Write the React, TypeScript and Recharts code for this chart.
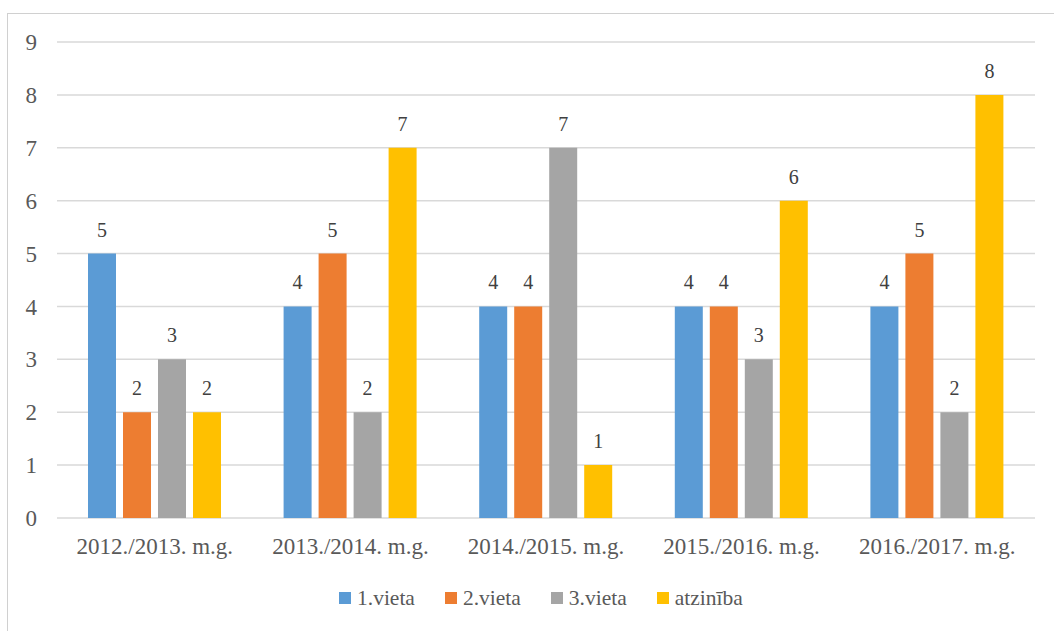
import { Bar, BarChart, CartesianGrid, LabelList, Legend, XAxis, YAxis } from 'recharts';

const years = ['2012./2013. m.g.', '2013./2014. m.g.', '2014./2015. m.g.', '2015./2016. m.g.', '2016./2017. m.g.'];
const first = [5, 4, 4, 4, 4];
const second = [2, 5, 4, 4, 5];
const third = [3, 2, 7, 3, 2];
const mention = [2, 7, 1, 6, 8];
const yTicks = [0, 1, 2, 3, 4, 5, 6, 7, 8, 9];

const series = [
  { key: 'v1', name: '1.vieta', color: '#5B9BD5' },
  { key: 'v2', name: '2.vieta', color: '#ED7D31' },
  { key: 'v3', name: '3.vieta', color: '#A5A5A5' },
  { key: 'v4', name: 'atzinība', color: '#FFC000' },
];

const data = years.map((year, i) => ({
  year,
  v1: first[i],
  v2: second[i],
  v3: third[i],
  v4: mention[i],
}));

const font = 'Liberation Serif, DejaVu Serif, serif';
const textColor = '#595959';

function LegendBox() {
  return (
    <div style={{ display: 'flex', alignItems: 'center', height: 30, paddingLeft: 339, fontFamily: font, fontSize: 21.5, color: textColor }}>
      {series.map((s) => (
        <div key={s.key} style={{ display: 'flex', alignItems: 'center', marginRight: 30 }}>
          <span style={{ width: 12, height: 12, background: s.color, marginRight: 6, display: 'inline-block' }} />
          <span>{s.name}</span>
        </div>
      ))}
    </div>
  );
}

export default function App() {
  return (
    <div style={{ position: 'absolute', left: 0, top: 0, width: 1054, height: 631, overflow: 'hidden', background: '#fff', fontFamily: font }}>
      <div style={{ position: 'absolute', left: 7, top: 13, width: 1100, height: 700, border: '1px solid #D0D0D0' }} />
      <div style={{ position: 'absolute', left: 0, top: 0 }}>
        <BarChart
          width={1054}
          height={631}
          data={data}
          margin={{ top: 42, right: 19, left: 7, bottom: 18 }}
          barCategoryGap={31}
          barGap={7}
          style={{ fontFamily: font }}
        >
          <CartesianGrid vertical={false} stroke="#D9D9D9" strokeWidth={1.5} />
          <XAxis
            dataKey="year"
            axisLine={false}
            tickLine={false}
            height={65}
            tickMargin={14}
            tick={{ fill: textColor, fontSize: 23, fontFamily: font }}
          />
          <YAxis
            domain={[0, 9]}
            ticks={yTicks}
            axisLine={false}
            tickLine={false}
            width={50}
            tickMargin={14}
            tick={{ fill: textColor, fontSize: 23, fontFamily: font }}
          />
          <Legend verticalAlign="bottom" content={<LegendBox />} wrapperStyle={{ left: 0, width: 1054 }} />
          {series.map((s) => (
            <Bar key={s.key} dataKey={s.key} name={s.name} fill={s.color} isAnimationActive={false}>
              <LabelList dataKey={s.key} position="top" offset={17} fill="#404040" fontSize={20} fontFamily={font} />
            </Bar>
          ))}
        </BarChart>
      </div>
    </div>
  );
}
